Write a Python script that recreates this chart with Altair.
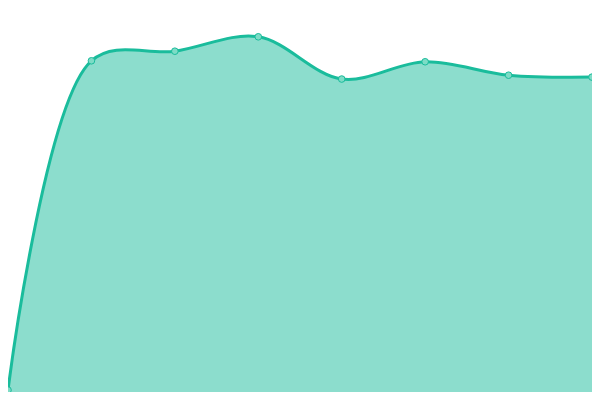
import altair as alt
import pandas as pd

categories = ["1", "2", "3", "4", "5", "6", "7", "8"]
values = [2, 345, 355, 370, 326, 344, 330, 328]

df = pd.DataFrame({"cat": categories, "idx": list(range(len(categories))), "val": values})

x = alt.X("idx:Q", axis=None, scale=alt.Scale(domain=[0, 7], nice=False, zero=False))
y = alt.Y("val:Q", axis=None, scale=alt.Scale(domain=[0, 400], nice=False))

base = alt.Chart(df)
area = base.mark_area(interpolate="catmull-rom", color="#1abc9c", opacity=0.5).encode(x=x, y=y)
line = base.mark_line(interpolate="catmull-rom", color="#1abc9c", strokeWidth=3).encode(x=x, y=y)
pts = base.mark_point(filled=True, size=44, fill="#7ddcc6", stroke="#1abc9c", strokeWidth=1, opacity=1).encode(x=x, y=y)

chart = (area + line + pts).properties(width=584, height=384, padding=0, autosize="none").configure_view(stroke=None)
chart.save("out.html", embed_options={"renderer": "svg", "actions": False})
